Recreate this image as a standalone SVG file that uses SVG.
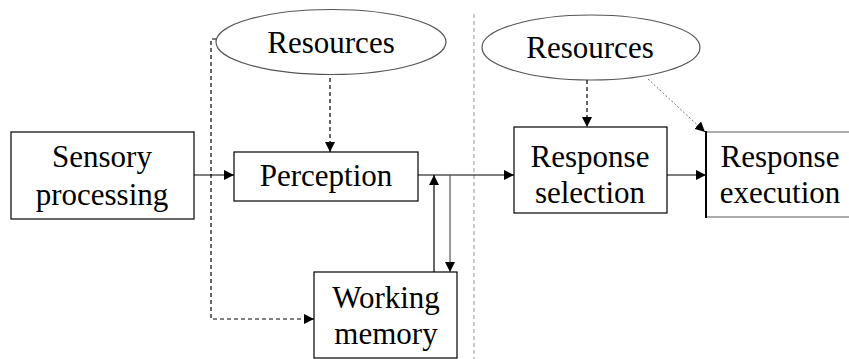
<svg xmlns="http://www.w3.org/2000/svg" width="849" height="359" viewBox="0 0 849 359">
<style>
.box{fill:#fff;stroke:#000;stroke-width:1.2}
.ell{fill:#fff;stroke:#555;stroke-width:1.2}
.ln{fill:none;stroke:#000;stroke-width:1.2}
.dash{fill:none;stroke:#000;stroke-width:1.2;stroke-dasharray:4 3}
.dot{fill:none;stroke:#777;stroke-width:1;stroke-dasharray:2 2}
.sep{fill:none;stroke:#aaa;stroke-width:1.2;stroke-dasharray:4 3}
</style>
<defs>
<marker id="ah" viewBox="0 0 10 10" refX="10" refY="5" markerWidth="10" markerHeight="10" markerUnits="userSpaceOnUse" orient="auto">
<path d="M0,0 L10,5 L0,10 Z" fill="#000"/>
</marker>
</defs>
<line class="sep" x1="474" y1="14" x2="474" y2="359"/>
<g id="sensory">
<rect class="box" x="11" y="132" width="183" height="87"/>
<text x="102" y="167" font-family="Liberation Serif" font-size="31" text-anchor="middle">Sensory</text>
<text x="102" y="205" font-family="Liberation Serif" font-size="31" text-anchor="middle">processing</text>
</g>
<g id="resources1">
<ellipse class="ell" cx="331" cy="42" rx="115" ry="32.5"/>
<text x="331" y="53" font-family="Liberation Serif" font-size="31" text-anchor="middle">Resources</text>
</g>
<g id="perception">
<rect class="box" x="234" y="152" width="184" height="49"/>
<text x="326" y="186" font-family="Liberation Serif" font-size="31" text-anchor="middle">Perception</text>
</g>
<g id="working-memory">
<rect class="box" x="314" y="272" width="143" height="86"/>
<text x="386" y="308" font-family="Liberation Serif" font-size="31" text-anchor="middle">Working</text>
<text x="386" y="344" font-family="Liberation Serif" font-size="31" text-anchor="middle">memory</text>
</g>
<g id="resources2">
<ellipse class="ell" cx="591" cy="47.5" rx="109" ry="32.5"/>
<text x="590" y="58" font-family="Liberation Serif" font-size="31" text-anchor="middle">Resources</text>
</g>
<g id="response-selection">
<rect class="box" x="514" y="127" width="153" height="86"/>
<text x="590" y="167" font-family="Liberation Serif" font-size="31" text-anchor="middle">Response</text>
<text x="590" y="203" font-family="Liberation Serif" font-size="31" text-anchor="middle">selection</text>
</g>
<g id="response-execution">
<rect class="box" x="706" y="132" width="160" height="85" style="stroke:#777"/>
<line x1="706" y1="131" x2="706" y2="218" stroke="#000" stroke-width="2"/>
<text x="780" y="167" font-family="Liberation Serif" font-size="31" text-anchor="middle">Response</text>
<text x="780" y="203" font-family="Liberation Serif" font-size="31" text-anchor="middle">execution</text>
</g>
<g id="connectors">
<line class="ln" x1="194" y1="175" x2="234" y2="175" marker-end="url(#ah)"/>
<line class="dash" x1="330" y1="78" x2="330" y2="152" marker-end="url(#ah)"/>
<polyline class="dash" points="216,39 211,39 211,319 314,319" marker-end="url(#ah)"/>
<line class="ln" x1="418" y1="175" x2="514" y2="175" marker-end="url(#ah)"/>
<line class="ln" x1="434" y1="272" x2="434" y2="175" marker-end="url(#ah)"/>
<line class="ln" x1="450" y1="175" x2="450" y2="272" style="stroke:#555" marker-end="url(#ah)"/>
<line class="dash" x1="587" y1="80" x2="587" y2="127" marker-end="url(#ah)"/>
<line class="dot" x1="648" y1="79" x2="705" y2="132" marker-end="url(#ah)"/>
<line class="ln" x1="667" y1="175" x2="706" y2="175" marker-end="url(#ah)"/>
</g>
</svg>
